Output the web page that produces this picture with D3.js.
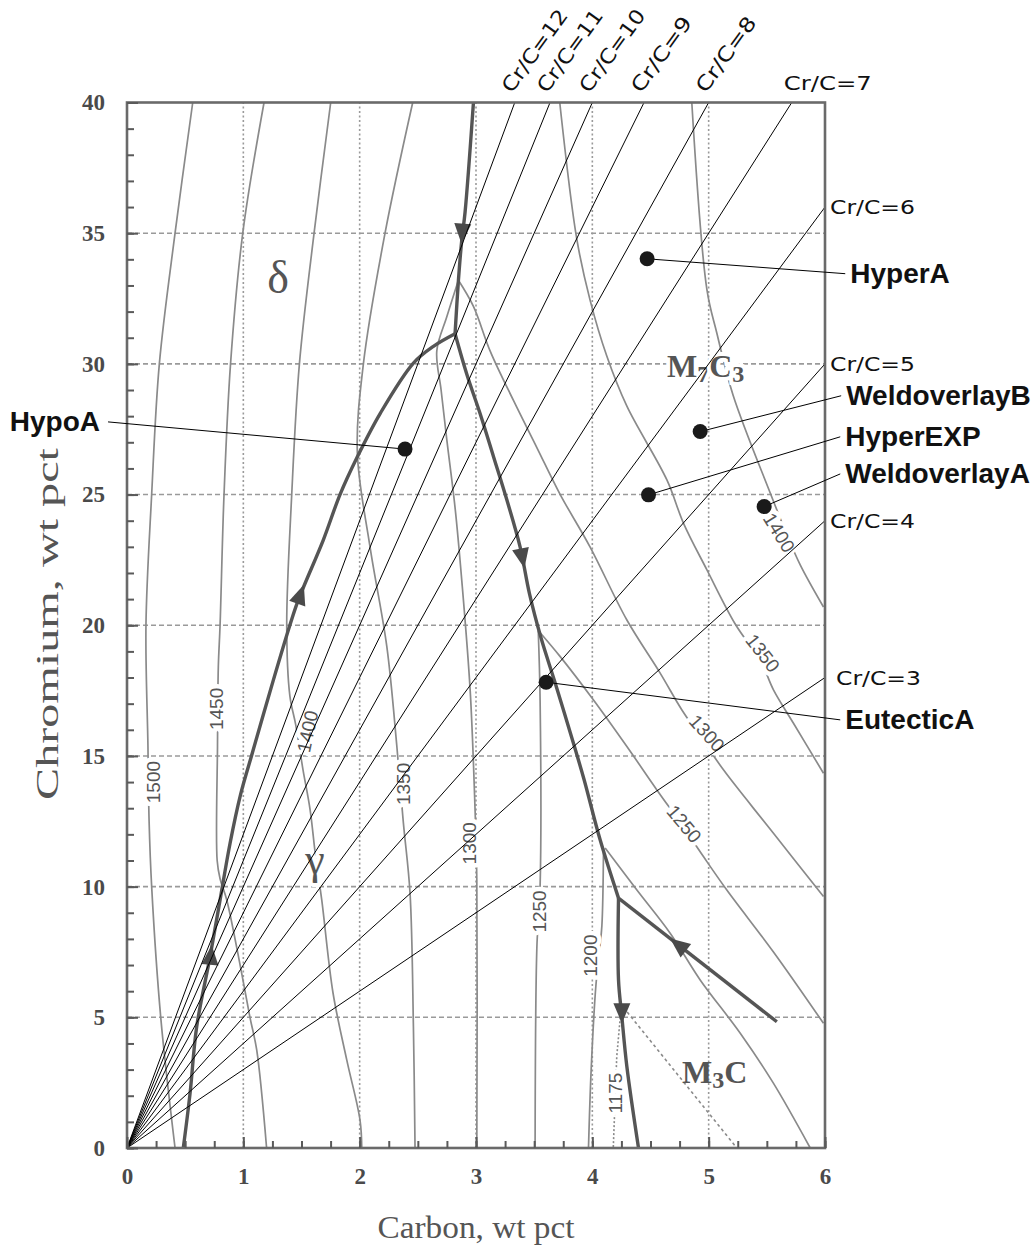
<!DOCTYPE html>
<html>
<head>
<meta charset="utf-8">
<script src="https://cdn.jsdelivr.net/npm/d3@7"></script>
<style>
  body { margin: 0; background: #fff; }
</style>
</head>
<body>
<div id="chart"></div>
<script>

// axis ticks
var xTickValues = [0, 1, 2, 3, 4, 5, 6];
var yTickValues = [0, 5, 10, 15, 20, 25, 30, 35, 40];

// Cr/C ratio lines drawn from the origin
var crcRatios = [3, 4, 5, 6, 7, 8, 9, 10, 11, 12];

// liquidus isotherms, [carbon, chromium] in wt pct
var iso1500 = [[0.413, 0], [0.29, 5], [0.212, 10], [0.19, 12.5], [0.18, 15.4], [0.163, 20], [0.212, 25], [0.278, 30], [0.413, 35], [0.565, 40]];
var iso1450 = [[1.2, 0], [1.115, 3.75], [1.057, 5], [0.986, 6.68], [0.857, 9.5], [0.80, 10.3], [0.775, 11], [0.778, 15.4], [0.785, 18.4], [0.80, 20], [0.834, 25], [0.89, 30], [0.995, 35], [1.178, 40]];
var iso1400 = [[2.018, 0], [2.003, 1.07], [1.889, 3.37], [1.771, 5.93], [1.674, 9.49], [1.62, 11.2], [1.574, 12.94], [1.513, 14.47], [1.45, 16.2], [1.40, 17.3], [1.373, 20], [1.416, 25], [1.482, 30], [1.608, 35], [1.751, 40]];
var iso1350 = [[2.476, 0], [2.462, 4.64], [2.433, 9.75], [2.376, 12.43], [2.319, 15.4], [2.233, 19.2], [2.089, 23], [1.98, 26.6], [2.032, 30], [2.218, 35], [2.456, 40]];
var iso1300g = [[3.007, 0], [3.007, 10.26], [2.99, 13.2], [2.95, 17.5], [2.878, 21.7], [2.82, 24.5], [2.749, 27.1], [2.70, 29], [2.663, 30.5], [2.749, 31.8], [2.849, 33.2]];
var iso1300m = [[2.849, 33.2], [2.978, 32.2], [3.121, 30.5], [3.322, 28.6], [3.523, 26.8], [3.724, 25.0], [3.98, 23.0], [4.297, 20.2], [4.583, 18.17], [4.77, 16.76], [4.95, 15.6], [5.127, 14.47], [5.328, 13.32], [5.557, 12.04], [5.987, 9.62]];
var iso1350m = [[3.72, 40], [3.867, 34.76], [3.98, 32.45], [4.125, 30.29], [4.297, 28.38], [4.641, 25.56], [4.784, 23.9], [4.985, 22.12], [5.228, 20.05], [5.45, 18.6], [5.557, 17.53], [5.729, 16.25], [5.987, 14.34]];
var iso1400m = [[4.855, 40], [4.985, 32.84], [5.07, 31.18], [5.21, 28.8], [5.53, 25.05], [5.66, 23.6], [5.787, 22.31], [5.987, 20.7]];
var iso1250g = [[3.508, 0], [3.523, 7.64], [3.551, 10], [3.551, 17.14], [3.535, 19.8]];
var iso1250m = [[3.535, 19.8], [3.724, 18.8], [4.01, 17.14], [4.297, 15.36], [4.555, 13.7], [4.78, 12.3], [4.955, 11.15], [5.156, 9.87], [5.557, 7.5], [5.987, 4.77]];
var iso1200g = [[3.967, 0], [3.99, 3], [4.03, 6.18], [4.06, 7.5], [4.082, 8.5], [4.096, 11.47]];
var iso1200m = [[4.11, 11.48], [4.383, 9.87], [4.669, 8.22], [4.927, 6.43], [5.27, 4.4], [5.555, 2.49], [5.873, 0]];
var iso1175 = [[4.24, 5.0], [4.21, 3.5], [4.18, 0]];
var m3cExtension = [[4.30, 5.2], [5.242, 0]];

// isotherm labels
var isoLabelText = ["1500", "1450", "1400", "1350", "1300", "1250", "1200", "1175", "1400", "1350", "1300", "1250"];
var isoLabelC = [0.224, 0.765, 1.552, 2.374, 2.94, 3.543, 3.981, 4.196, 5.606, 5.464, 4.985, 4.789];
var isoLabelCr = [14.0, 16.8, 15.94, 13.93, 11.66, 9.05, 7.36, 2.1, 23.54, 18.94, 15.87, 12.4];

// phase boundaries (monovariant lines)
var bDeltaGamma = [[0.484, 0], [0.542, 2.09], [0.599, 4.64], [0.714, 7.32], [0.80, 9.49], [0.886, 11.66], [0.975, 13.5], [1.07, 15.0], [1.258, 17.9], [1.40, 20.0], [1.473, 20.97], [1.688, 23.27], [1.831, 25.0], [1.975, 26.4], [2.176, 28.1], [2.462, 30.03], [2.634, 30.67], [2.82, 31.15]];
var bDeltaM7 = [[2.82, 31.15], [2.849, 33.2], [2.878, 34.75], [2.906, 35.8], [2.978, 40]];
var bGammaM7 = [[2.82, 31.15], [2.921, 29.6], [3.035, 28.1], [3.15, 26.46], [3.265, 24.8], [3.379, 23.0], [3.46, 21.2], [3.56, 19.5], [3.68, 17.8], [3.85, 15.3], [3.93, 14.08], [4.067, 11.79], [4.225, 9.56]];
var bGammaM3 = [[4.225, 9.56], [4.225, 6.43], [4.254, 5.02], [4.297, 3.11], [4.397, 0]];
var bM7M3 = [[4.225, 9.56], [5.586, 4.83]];

// arrows on the boundaries: tip and a point behind it
var arrowTips = [[0.728, 7.77], [1.52, 21.55], [2.875, 34.6], [3.416, 22.18], [4.254, 4.77], [4.669, 8.02]];
var arrowBacks = [[0.714, 7.04], [1.455, 20.72], [2.89, 35.6], [3.386, 22.85], [4.254, 5.54], [4.783, 7.62]];

// alloys
var sampleNames = ["HyperA", "HypoA", "WeldoverlayB", "HyperEXP", "WeldoverlayA", "EutecticA"];
var sampleC = [4.471, 2.39, 4.927, 4.483, 5.477, 3.603];
var sampleCr = [34.02, 26.74, 27.41, 24.99, 24.54, 17.82];
// where each leader line ends
var leaderC = [6.174, -0.163, 6.139, 6.131, 6.131, 6.131];
var leaderCr = [33.45, 27.78, 28.78, 27.21, 25.79, 16.38];


var svgWidth = 1032;
var svgHeigth = 1255;

var svg = d3.select("#chart").append("svg")
    .attr("width", svgWidth)
    .attr("height", svgHeigth)
    .style("font-family", "'Liberation Serif', 'Times New Roman', serif");

// scales in page pixels
var xScale = d3.scaleLinear().domain([0, 6]).range([127, 825]);
var yScale = d3.scaleLinear().domain([0, 40]).range([1148, 102.5]);

var curve = d3.line()
    .x(d => xScale(d[0]))
    .y(d => yScale(d[1]))
    .curve(d3.curveCatmullRom.alpha(0.5));

var straight = d3.line()
    .x(d => xScale(d[0]))
    .y(d => yScale(d[1]));

// grid
svg.append("g").selectAll("line")
    .data(yTickValues.slice(1, -1))
    .enter().append("line")
    .attr("x1", xScale(0)).attr("x2", xScale(6))
    .attr("y1", d => yScale(d)).attr("y2", d => yScale(d))
    .attr("stroke", "#9a9a9a")
    .attr("stroke-width", 1.6)
    .attr("stroke-dasharray", "5,3");

svg.append("g").selectAll("line")
    .data(xTickValues.slice(1, -1))
    .enter().append("line")
    .attr("x1", d => xScale(d)).attr("x2", d => xScale(d))
    .attr("y1", yScale(0)).attr("y2", yScale(40))
    .attr("stroke", "#9a9a9a")
    .attr("stroke-width", 1.6)
    .attr("stroke-dasharray", "2,2.5");

// isotherms
var isotherms = [iso1500, iso1450, iso1400, iso1350, iso1300g, iso1300m, iso1350m, iso1400m, iso1250g, iso1250m, iso1200g, iso1200m];

svg.append("g").selectAll("path")
    .data(isotherms)
    .enter().append("path")
    .attr("d", curve)
    .attr("fill", "none")
    .attr("stroke", "#8a8a8a")
    .attr("stroke-width", 1.7);

svg.append("path")
    .attr("d", straight(iso1175))
    .attr("fill", "none")
    .attr("stroke", "#8a8a8a")
    .attr("stroke-width", 1.6)
    .attr("stroke-dasharray", "2,2");

svg.append("path")
    .attr("d", straight(m3cExtension))
    .attr("fill", "none")
    .attr("stroke", "#8a8a8a")
    .attr("stroke-width", 1.6)
    .attr("stroke-dasharray", "3,3");

// isotherm labels, white halo breaks the lines under them
var isoAngles = [-90, -90, -78, -90, -90, -90, -90, -90, 58, 52, 48, 50];

svg.append("g").selectAll("text")
    .data(isoLabelText)
    .enter().append("text")
    .attr("transform", (d, i) => `translate(${xScale(isoLabelC[i])}, ${yScale(isoLabelCr[i])}) rotate(${isoAngles[i]})`)
    .attr("text-anchor", "middle")
    .attr("dy", "0.35em")
    .style("font-family", "'Liberation Sans', Arial, sans-serif")
    .style("font-size", "19px")
    .attr("fill", "#555")
    .attr("stroke", "#fff")
    .attr("stroke-width", 9)
    .attr("stroke-linejoin", "round")
    .attr("paint-order", "stroke")
    .text(d => d);

// phase boundaries
var boundaries = [bDeltaGamma, bDeltaM7, bGammaM7, bGammaM3];

svg.append("g").selectAll("path")
    .data(boundaries)
    .enter().append("path")
    .attr("d", curve)
    .attr("fill", "none")
    .attr("stroke", "#555")
    .attr("stroke-width", 3.4)
    .attr("stroke-linejoin", "round");

svg.append("path")
    .attr("d", straight(bM7M3))
    .attr("fill", "none")
    .attr("stroke", "#555")
    .attr("stroke-width", 3.4);

// arrow heads
function arrowPoints(tip, back) {
    var tx = xScale(tip[0]), ty = yScale(tip[1]);
    var bx = xScale(back[0]), by = yScale(back[1]);
    var len = Math.hypot(tx - bx, ty - by);
    var ux = (tx - bx) / len, uy = (ty - by) / len;
    var l = 20, hw = 8.5;
    var cx = tx - ux * l, cy = ty - uy * l;
    return [[tx, ty], [cx - uy * hw, cy + ux * hw], [cx + uy * hw, cy - ux * hw]];
}

svg.append("g").selectAll("polygon")
    .data(arrowTips)
    .enter().append("polygon")
    .attr("points", (d, i) => arrowPoints(d, arrowBacks[i]).join(" "))
    .attr("fill", "#4a4a4a");

// phase labels
svg.append("text")
    .attr("x", 278).attr("y", 293)
    .attr("text-anchor", "middle")
    .style("font-size", "46px")
    .attr("fill", "#555")
    .text("δ");

svg.append("text")
    .attr("x", 315).attr("y", 874)
    .attr("text-anchor", "middle")
    .style("font-size", "44px")
    .attr("fill", "#555")
    .attr("stroke", "#fff")
    .attr("stroke-width", 8)
    .attr("paint-order", "stroke")
    .text("γ");

var m7 = svg.append("text")
    .attr("x", 667).attr("y", 377)
    .style("font-size", "32px")
    .style("font-weight", "bold")
    .attr("fill", "#555")
    .attr("stroke", "#fff")
    .attr("stroke-width", 8)
    .attr("paint-order", "stroke");
m7.append("tspan").text("M");
m7.append("tspan").attr("dy", 5).style("font-size", "24px").text("7");
m7.append("tspan").attr("dy", -5).text("C");
m7.append("tspan").attr("dy", 5).style("font-size", "24px").text("3");

var m3 = svg.append("text")
    .attr("x", 682).attr("y", 1083)
    .style("font-size", "32px")
    .style("font-weight", "bold")
    .attr("fill", "#555");
m3.append("tspan").text("M");
m3.append("tspan").attr("dy", 5).style("font-size", "24px").text("3");
m3.append("tspan").attr("dy", -5).text("C");

// Cr/C lines, each one ends at the frame
function crcEnd(k) {
    var c = Math.min(6, 40 / k);
    return [c, k * c];
}

svg.append("g").selectAll("line")
    .data(crcRatios)
    .enter().append("line")
    .attr("x1", xScale(0)).attr("y1", yScale(0))
    .attr("x2", d => xScale(crcEnd(d)[0]))
    .attr("y2", d => yScale(crcEnd(d)[1]))
    .attr("stroke", "#000")
    .attr("stroke-width", 1);

// Cr/C labels
var crcLabels = svg.append("g")
    .style("font-family", "'DejaVu Sans', sans-serif")
    .style("font-size", "20px")
    .attr("fill", "#111");

crcRatios.forEach(function (k) {
    var end = crcEnd(k);
    var ex = xScale(end[0]), ey = yScale(end[1]);
    var label = `Cr/C=${k}`;
    if (k >= 8) {
        crcLabels.append("text")
            .attr("transform", `translate(${ex - 3}, 94) rotate(-54)`)
            .attr("textLength", k >= 10 ? 97 : 88)
            .attr("lengthAdjust", "spacingAndGlyphs")
            .text(label);
    } else if (k === 7) {
        crcLabels.append("text")
            .attr("x", ex - 8).attr("y", 90)
            .attr("textLength", 88)
            .attr("lengthAdjust", "spacingAndGlyphs")
            .text(label);
    } else {
        crcLabels.append("text")
            .attr("x", ex + (k === 3 ? 11 : 5)).attr("y", ey + 7)
            .attr("textLength", 85)
            .attr("lengthAdjust", "spacingAndGlyphs")
            .text(label);
    }
});

// frame
svg.append("rect")
    .attr("x", xScale(0)).attr("y", yScale(40))
    .attr("width", xScale(6) - xScale(0))
    .attr("height", yScale(0) - yScale(40))
    .attr("fill", "none")
    .attr("stroke", "#6a6a6a")
    .attr("stroke-width", 2.6);

// axes, ticks point into the plot
var xMinor = d3.range(0, 6.01, 0.25);
var yMinor = d3.range(0, 40.1, 1);

var xAxisMinor = svg.append("g")
    .attr("transform", `translate(0, ${yScale(0)})`)
    .call(d3.axisBottom(xScale).tickValues(xMinor).tickSize(-7).tickFormat(""));

var xAxis = svg.append("g")
    .attr("transform", `translate(0, ${yScale(0)})`)
    .call(d3.axisBottom(xScale).tickValues(xTickValues).tickSize(-11).tickPadding(20).tickFormat(d3.format("d")));

var yAxisMinor = svg.append("g")
    .attr("transform", `translate(${xScale(0)}, 0)`)
    .call(d3.axisLeft(yScale).tickValues(yMinor).tickSize(-7).tickFormat(""));

var yAxis = svg.append("g")
    .attr("transform", `translate(${xScale(0)}, 0)`)
    .call(d3.axisLeft(yScale).tickValues(yTickValues).tickSize(-11).tickPadding(22).tickFormat(d3.format("d")));

[xAxisMinor, xAxis, yAxisMinor, yAxis].forEach(function (g) {
    g.select(".domain").remove();
    g.attr("color", "#5a5a5a");
    g.selectAll(".tick line").attr("stroke-width", 2);
    g.selectAll("text")
        .style("font-family", "'Liberation Serif', 'Times New Roman', serif")
        .style("font-size", "23px")
        .style("font-weight", "bold")
        .attr("fill", "#4a4a4a");
});

// axis titles
svg.append("text")
    .attr("x", 476).attr("y", 1238)
    .attr("text-anchor", "middle")
    .style("font-size", "31px")
    .attr("fill", "#555")
    .attr("textLength", 197)
    .attr("lengthAdjust", "spacingAndGlyphs")
    .text("Carbon, wt pct");

svg.append("text")
    .attr("transform", "translate(58, 624) rotate(-90)")
    .attr("text-anchor", "middle")
    .style("font-size", "31px")
    .attr("fill", "#555")
    .attr("textLength", 352)
    .attr("lengthAdjust", "spacingAndGlyphs")
    .text("Chromium, wt pct");

// alloys: leader lines, dots and names
svg.append("g").selectAll("line")
    .data(sampleNames)
    .enter().append("line")
    .attr("x1", (d, i) => xScale(sampleC[i]))
    .attr("y1", (d, i) => yScale(sampleCr[i]))
    .attr("x2", (d, i) => xScale(leaderC[i]))
    .attr("y2", (d, i) => yScale(leaderCr[i]))
    .attr("stroke", "#000")
    .attr("stroke-width", 1);

svg.append("g").selectAll("circle")
    .data(sampleNames)
    .enter().append("circle")
    .attr("cx", (d, i) => xScale(sampleC[i]))
    .attr("cy", (d, i) => yScale(sampleCr[i]))
    .attr("r", 7.5)
    .attr("fill", "#1a1a1a");

svg.append("g").selectAll("text")
    .data(sampleNames)
    .enter().append("text")
    .attr("x", (d, i) => d === "HypoA" ? xScale(leaderC[i]) - 8 : xScale(leaderC[i]) + 5)
    .attr("y", (d, i) => yScale(leaderCr[i]) + 9)
    .attr("text-anchor", d => d === "HypoA" ? "end" : "start")
    .style("font-family", "'Liberation Sans', Arial, sans-serif")
    .style("font-size", "28px")
    .style("font-weight", "bold")
    .attr("fill", "#111")
    .text(d => d);

</script>
</body>
</html>
